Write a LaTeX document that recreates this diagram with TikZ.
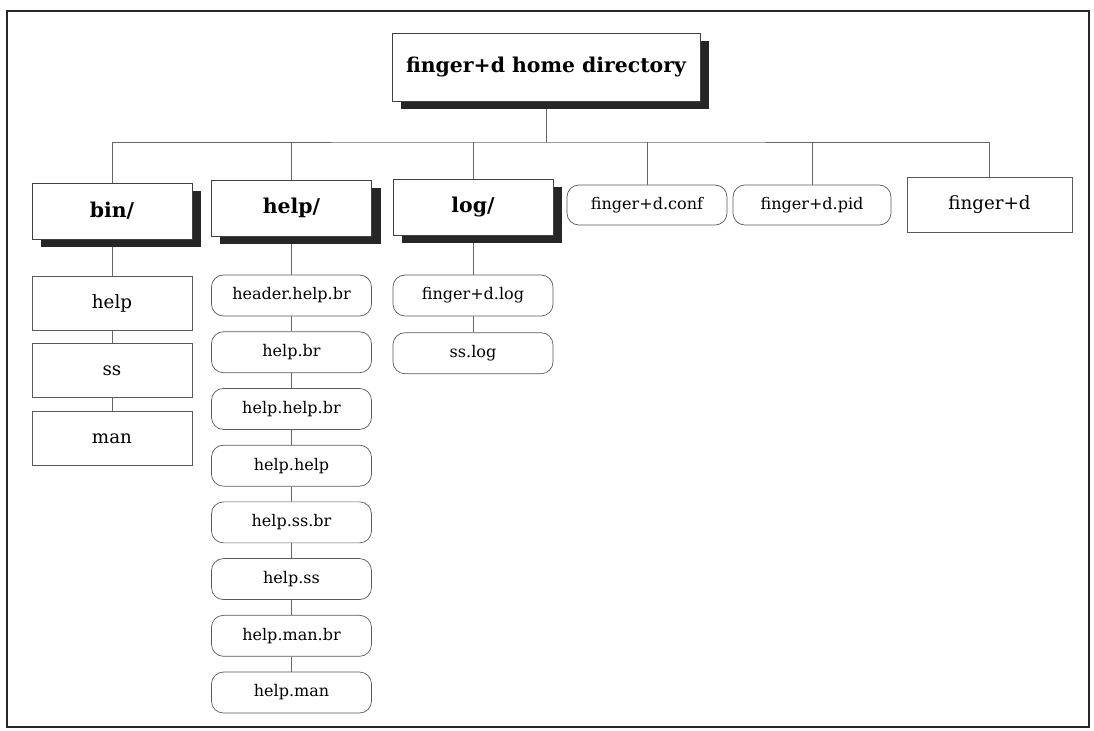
\documentclass[tikz,border=0pt]{standalone}
\usepackage{fontspec}
\setmainfont{DejaVu Serif}
\usetikzlibrary{positioning,shadows,backgrounds}

\begin{document}
\begin{tikzpicture}[x=0.025cm,y=-0.025cm,line width=0.5pt,
                    dir node/.style={draw=black!75,fill=white,minimum width=4cm,minimum height=1.4cm,
                      font=\bfseries\fontsize{14.5}{17}\selectfont,
                      drop shadow={shadow xshift=0.225cm,shadow yshift=-0.2cm,fill=black!85,opacity=1}},
                    file node/.style={draw=black!65,fill=white,rounded corners=0.3cm,minimum width=4cm,
                      minimum height=1.025cm,font=\fontsize{11.4}{13}\selectfont},
                    plain node/.style={draw=black!65,fill=white,minimum width=4cm,minimum height=1.35cm,
                      font=\fontsize{13}{15}\selectfont},
                    link/.style={draw=black!60,line width=0.4pt}]

  \useasboundingbox (0,0) rectangle (1094,731);
  \draw[line width=1.2pt,black!85] (7,11) rectangle (1089,727);

  \node[dir node,minimum width=7.7cm,minimum height=1.7cm] (root) at (546,67) {finger+d home directory};

  \node[dir node] (bin) at (112,211) {bin/};
  \node[dir node] (help) at (291.5,208) {help/};
  \node[dir node] (log) at (473,207) {log/};
  \node[file node,minimum height=1cm] (conf) at (647,205) {finger+d.conf};
  \node[file node,minimum height=1cm,minimum width=3.95cm] (pid) at (812,205) {finger+d.pid};
  \node[plain node,minimum width=4.125cm,minimum height=1.375cm] (fingerd) at (989.5,204.5) {finger+d};

  % bin/
  \node[plain node] (binhelp) at (112,303) {help};
  \node[plain node] (binss) [below=0.325cm of binhelp] {ss};
  \node[plain node] (binman) [below=0.325cm of binss] {man};

  % help/
  \node[file node] (hdr) at (291.5,295.5) {header.help.br};
  \node[file node] (hbr) [below=0.375cm of hdr] {help.br};
  \node[file node] (hhbr) [below=0.375cm of hbr] {help.help.br};
  \node[file node] (hh) [below=0.375cm of hhbr] {help.help};
  \node[file node] (hssbr) [below=0.375cm of hh] {help.ss.br};
  \node[file node] (hss) [below=0.375cm of hssbr] {help.ss};
  \node[file node] (hmanbr) [below=0.375cm of hss] {help.man.br};
  \node[file node] (hman) [below=0.375cm of hmanbr] {help.man};

  % log/
  \node[file node] (flog) at (473,295.5) {finger+d.log};
  \node[file node] (sslog) [below=0.4cm of flog] {ss.log};

  \begin{scope}[on background layer]
    \coordinate (bus) at (546,142);
    \path[link] (root) -- (bus);
    \path[link] (bin.north) |- (bus) -| (fingerd.north);
    \foreach \n in {help,log,conf,pid}
      \path[link] (\n.north) -- (\n.north |- bus);
    \path[link] (bin) -- (binhelp) -- (binss) -- (binman);
    \path[link] (help) -- (hdr) -- (hbr) -- (hhbr) -- (hh) -- (hssbr) -- (hss) -- (hmanbr) -- (hman);
    \path[link] (log) -- (flog) -- (sslog);
  \end{scope}
\end{tikzpicture}
\end{document}
